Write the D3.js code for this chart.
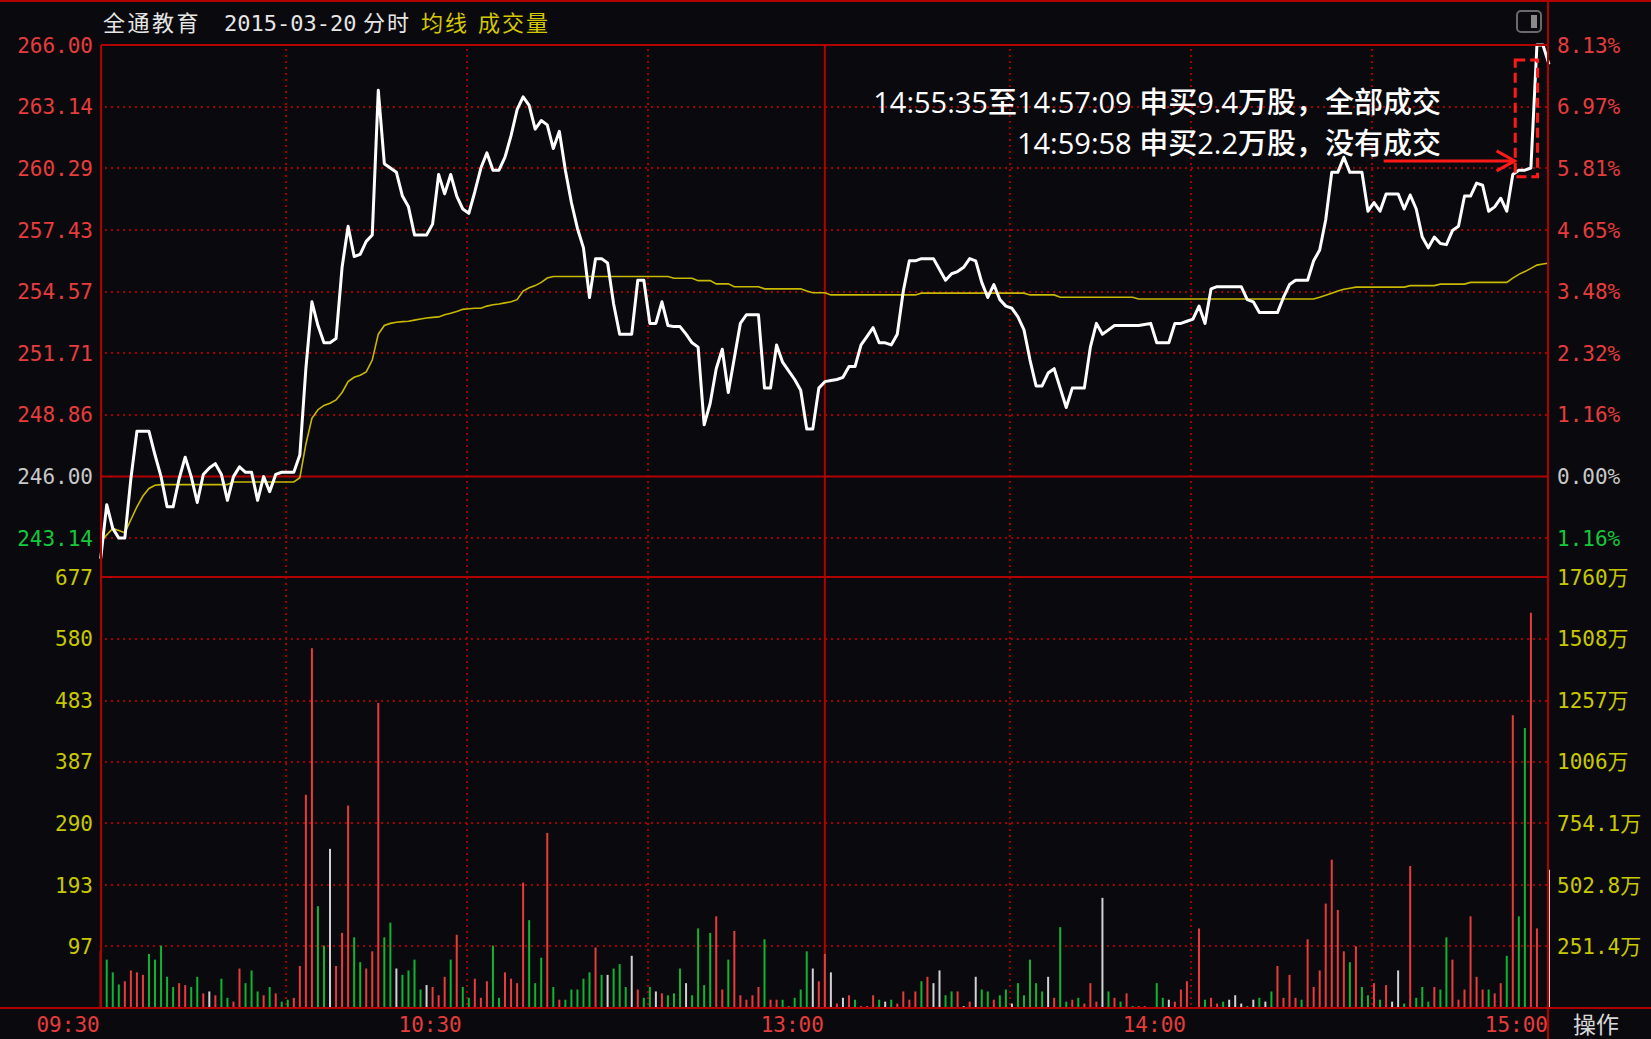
<!DOCTYPE html>
<html>
<head>
<meta charset="utf-8">
<script src="https://cdn.jsdelivr.net/npm/d3@7/dist/d3.min.js"></script>
<style>
  body { margin: 0; background: #0a0a0e; }
  svg { display: block; }
</style>
</head>
<body>
<div id="chart"></div>
<script>
// ---- data ----
var stockName = '全通教育';
var tradeDate = '2015-03-20';
var timeLabels = ['09:30', '10:30', '13:00', '14:00', '15:00'];
var timeLabelIdx = [0, 60, 120, 180, 240];
var gridIdx = [30, 60, 90, 150, 180, 210];
var preClose = 246.00;
var priceTicks = [266.00, 263.14, 260.29, 257.43, 254.57, 251.71, 248.86, 246.00, 243.14];
var pctTicks = ['8.13%', '6.97%', '5.81%', '4.65%', '3.48%', '2.32%', '1.16%', '0.00%', '1.16%'];
var volTicks = [677, 580, 483, 387, 290, 193, 97];
var volMoneyTicks = ['1760万', '1508万', '1257万', '1006万', '754.1万', '502.8万', '251.4万'];

// one value per minute, 09:30 .. 11:30 / 13:01 .. 15:00
var price = [
  242.2, 244.7, 243.6, 243.15, 243.15, 245.9, 248.1, 248.1, 248.1, 247.0,
  246.0, 244.6, 244.6, 245.9, 246.9, 246.0, 244.8, 246.1, 246.4, 246.6,
  246.1, 244.9, 246.0, 246.45, 246.2, 246.2, 244.9, 246.0, 245.3, 246.1,
  246.2, 246.2, 246.2, 247.0, 251.0, 254.1, 253.0, 252.2, 252.2, 252.4,
  255.7, 257.6, 256.2, 256.3, 256.9, 257.2, 263.9, 260.5, 260.3, 260.1,
  259.0, 258.5, 257.2, 257.2, 257.2, 257.7, 260.0, 259.1, 260.0, 259.0,
  258.4, 258.2, 259.2, 260.3, 261.0, 260.2, 260.2, 260.8, 261.8, 263.0,
  263.6, 263.2, 262.1, 262.5, 262.3, 261.2, 262.0, 260.2, 258.7, 257.5,
  256.6, 254.3, 256.1, 256.1, 255.9, 254.0, 252.6, 252.6, 252.6, 255.1,
  255.1, 253.1, 253.1, 254.1, 253.0, 252.95, 252.95, 252.6, 252.2, 252.0,
  248.4, 249.4, 251.0, 251.9, 249.9, 251.5, 253.1, 253.5, 253.5, 253.5,
  250.1, 250.1, 252.1, 251.3, 250.9, 250.5, 250.0, 248.2, 248.2, 250.1,
  250.4, 250.45, 250.5, 250.6, 251.1, 251.1, 252.1, 252.5, 252.9, 252.2,
  252.2, 252.1, 252.6, 254.6, 256.0, 256.0, 256.1, 256.1, 256.1, 255.6,
  255.1, 255.4, 255.5, 255.7, 256.1, 256.0, 255.0, 254.3, 254.9, 254.2,
  253.9, 253.8, 253.4, 252.8, 251.4, 250.2, 250.2, 250.8, 251.0, 250.1,
  249.2, 250.1, 250.1, 250.1, 252.0, 253.1, 252.6, 252.8, 253.0, 253.0,
  253.0, 253.0, 253.0, 253.05, 253.1, 252.2, 252.2, 252.2, 253.1, 253.1,
  253.2, 253.3, 253.9, 253.1, 254.7, 254.8, 254.8, 254.8, 254.8, 254.8,
  254.2, 254.1, 253.6, 253.6, 253.6, 253.6, 254.3, 254.9, 255.1, 255.1,
  255.1, 256.0, 256.5, 257.9, 260.1, 260.1, 260.8, 260.1, 260.1, 260.1,
  258.3, 258.7, 258.3, 259.1, 259.1, 259.1, 258.4, 259.05, 258.4, 257.1,
  256.6, 257.1, 256.8, 256.75, 257.4, 257.6, 259.0, 259.0, 259.6, 259.5,
  258.3, 258.5, 258.9, 258.3, 260.0, 260.2, 260.2, 260.3, 266.0, 266.0,
  265.1
];

var avgPrice = [
  243.0, 243.3, 243.6, 243.5, 243.4, 244.0, 244.6, 245.1, 245.45, 245.6,
  245.63, 245.63, 245.63, 245.63, 245.63, 245.63, 245.63, 245.63, 245.63, 245.63,
  245.63, 245.63, 245.75, 245.75, 245.75, 245.75, 245.75, 245.75, 245.75, 245.75,
  245.75, 245.75, 245.75, 245.95, 247.5, 248.7, 249.1, 249.3, 249.4, 249.55,
  249.9, 250.4, 250.6, 250.7, 250.85, 251.4, 252.6, 253.0, 253.1, 253.15,
  253.18, 253.2, 253.25, 253.3, 253.35, 253.38, 253.4, 253.5, 253.57, 253.65,
  253.75, 253.78, 253.8, 253.8, 253.9, 253.96, 254.0, 254.05, 254.1, 254.2,
  254.6, 254.75, 254.85, 255.0, 255.2, 255.27, 255.27, 255.27, 255.27, 255.27,
  255.27, 255.27, 255.27, 255.27, 255.27, 255.27, 255.27, 255.27, 255.27, 255.27,
  255.27, 255.27, 255.27, 255.27, 255.27, 255.19, 255.19, 255.19, 255.19, 255.08,
  255.08, 255.08, 254.93, 254.93, 254.93, 254.8, 254.8, 254.8, 254.8, 254.8,
  254.7, 254.7, 254.7, 254.7, 254.7, 254.7, 254.7, 254.6, 254.52, 254.52,
  254.52, 254.42, 254.42, 254.42, 254.42, 254.42, 254.42, 254.42, 254.42, 254.42,
  254.42, 254.42, 254.42, 254.42, 254.42, 254.42, 254.5, 254.5, 254.5, 254.5,
  254.5, 254.5, 254.5, 254.5, 254.5, 254.5, 254.5, 254.5, 254.5, 254.5,
  254.5, 254.5, 254.5, 254.5, 254.42, 254.42, 254.42, 254.42, 254.42, 254.31,
  254.31, 254.31, 254.31, 254.31, 254.31, 254.31, 254.31, 254.31, 254.31, 254.31,
  254.31, 254.31, 254.23, 254.23, 254.23, 254.23, 254.23, 254.23, 254.23, 254.23,
  254.23, 254.23, 254.23, 254.23, 254.23, 254.23, 254.23, 254.23, 254.23, 254.23,
  254.23, 254.23, 254.23, 254.23, 254.23, 254.23, 254.23, 254.23, 254.23, 254.23,
  254.23, 254.23, 254.31, 254.4, 254.5, 254.6, 254.68, 254.73, 254.78, 254.78,
  254.78, 254.78, 254.78, 254.78, 254.78, 254.78, 254.78, 254.85, 254.85, 254.85,
  254.85, 254.85, 254.92, 254.92, 254.92, 254.92, 254.92, 255.0, 255.0, 255.0,
  255.0, 255.0, 255.0, 255.0, 255.2, 255.37, 255.5, 255.65, 255.8, 255.85,
  255.9
];

// volume in lots (手)
var volume = [
  90, 76, 56, 37, 42, 59, 56, 52, 85, 76,
  98, 49, 33, 39, 36, 33, 49, 23, 26, 20,
  46, 16, 10, 62, 39, 59, 26, 20, 33, 23,
  10, 13, 16, 66, 335, 565, 160, 98, 250, 66,
  118, 318, 111, 72, 62, 89, 479, 111, 134, 62,
  52, 59, 76, 29, 36, 33, 20, 49, 76, 115,
  33, 16, 46, 16, 42, 98, 16, 56, 46, 39,
  197, 138, 39, 79, 275, 33, 13, 13, 29, 29,
  46, 56, 95, 52, 52, 62, 69, 33, 82, 29,
  16, 33, 26, 23, 20, 23, 62, 39, 20, 125,
  36, 118, 144, 29, 76, 121, 20, 13, 20, 33,
  108, 13, 13, 13, 3, 16, 29, 89, 62, 42,
  85, 56, 7, 16, 20, 13, 3, 3, 20, 13,
  10, 13, 7, 26, 13, 26, 42, 49, 39, 59,
  20, 26, 26, 3, 10, 49, 29, 26, 13, 20,
  29, 7, 39, 20, 76, 39, 26, 49, 16, 127,
  10, 13, 16, 7, 39, 10, 173, 26, 16, 10,
  23, 3, 3, 3, 0, 39, 16, 13, 10, 29,
  42, 0, 125, 13, 16, 7, 10, 13, 20, 7,
  3, 13, 16, 10, 26, 66, 16, 52, 16, 13,
  108, 33, 59, 164, 233, 154, 89, 72, 97, 33,
  20, 39, 13, 36, 10, 59, 7, 223, 16, 33,
  10, 33, 29, 111, 76, 13, 29, 144, 49, 29,
  29, 23, 39, 82, 460, 144, 440, 621, 125, 0,
  217
];

// r = up, g = down, w = flat
var volColor = [
  'r','g','g','g','r','r','r','r','g','g',
  'g','g','g','r','r','g','g','r','w','r',
  'g','g','r','r','g','g','g','r','g','r',
  'g','g','r','r','r','r','g','g','w','r',
  'r','r','g','g','r','r','r','g','g','w',
  'g','g','g','g','w','r','r','r','g','r',
  'g','g','r','r','r','g','g','r','r','r',
  'r','g','g','g','r','g','r','g','g','g',
  'g','g','r','g','w','g','g','g','w','r',
  'g','g','w','r','g','g','g','w','g','g',
  'g','g','r','r','g','r','r','r','r','r',
  'g','r','r','g','g','g','g','g','w','r',
  'r','w','r','w','r','g','r','r','r','g',
  'w','g','r','r','r','r','g','r','w','w',
  'g','g','r','w','r','w','g','g','r','g',
  'g','w','g','g','g','g','g','w','r','g',
  'g','r','g','r','r','r','w','g','r','g',
  'r','g','r','r','w','g','g','w','r','r',
  'r','w','r','g','r','r','g','w','w','w',
  'g','w','g','w','g','r','r','r','r','g',
  'r','r','r','r','r','r','r','g','r','g',
  'g','r','g','r','w','w','g','r','g','g',
  'g','r','g','g','r','r','r','r','r','r',
  'g','r','r','g','r','g','g','r','r','w',
  'w'
];

var notes = ['14:55:35至14:57:09 申买9.4万股，全部成交', '14:59:58 申买2.2万股，没有成交'];
// marked zone: minutes and prices
var noteBox = { i0: 234.4, i1: 238.1, p0: 265.3, p1: 259.9 };
var noteArrow = { i0: 212.6, i1: 234.3, p: 260.63 };

// ---- layout ----
var W = 1651, H = 1039;
var left = 101, right = 1548;
var priceTop = 45, baseY = 476.6, volTop = 577, volBottom = 1008;

var bg = '#0a0a0e';
var axisRed = '#b00000';
var gridRed = '#a00000';
var upRed = '#e63c3c';
var downGreen = '#14c83c';
var flatWhite = '#c8c8c8';
var volYellow = '#c8c800';
var barColor = { r: '#e83c3c', g: '#10b432', w: '#d2d2d2' };

var monoFont = '"DejaVu Sans Mono", "Noto Sans CJK SC", monospace';

var x = d3.scaleLinear().domain([0, 240]).range([100.7, 1549]);
var yP = d3.scaleLinear().domain([preClose, 266]).range([baseY, priceTop]);
var yV = d3.scaleLinear().domain([0, 677]).range([volBottom, volTop]);

var svg = d3.select('#chart').append('svg')
  .attr('width', W)
  .attr('height', H)
  .style('background', bg);

// dotted grid
var grid = svg.append('g').attr('stroke', gridRed).attr('stroke-width', 2).attr('stroke-dasharray', '2 4');

grid.selectAll('line.hp')
  .data(priceTicks.filter(function(d) { return d !== 266 && d !== preClose; }))
  .enter().append('line')
    .attr('x1', left + 4).attr('x2', right)
    .attr('y1', function(d) { return Math.round(yP(d)); })
    .attr('y2', function(d) { return Math.round(yP(d)); });

grid.selectAll('line.hv')
  .data(volTicks.slice(1))
  .enter().append('line')
    .attr('x1', left + 4).attr('x2', right)
    .attr('y1', function(d) { return Math.round(yV(d)); })
    .attr('y2', function(d) { return Math.round(yV(d)); });

grid.selectAll('line.v')
  .data(gridIdx.filter(function(d) { return d !== 120; }))
  .enter().append('line')
    .attr('x1', function(d) { return Math.round(x(d)) + 4; })
    .attr('x2', function(d) { return Math.round(x(d)) + 4; })
    .attr('y1', priceTop + 4).attr('y2', volBottom);

// solid red frame lines
var frame = svg.append('g').attr('stroke', axisRed).attr('stroke-width', 2);
frame.append('line').attr('x1', left).attr('x2', right).attr('y1', baseY).attr('y2', baseY);
frame.append('line').attr('x1', left).attr('x2', right).attr('y1', volTop).attr('y2', volTop);
frame.append('line').attr('x1', x(120)).attr('x2', x(120)).attr('y1', priceTop).attr('y2', volBottom);

// volume bars
svg.append('g').selectAll('line')
  .data(volume)
  .enter().append('line')
    .attr('x1', function(d, i) { return x(i); })
    .attr('x2', function(d, i) { return x(i); })
    .attr('y1', yV(0))
    .attr('y2', function(d) { return yV(d); })
    .attr('stroke', function(d, i) { return barColor[volColor[i]]; })
    .attr('stroke-width', 2);

// average price line
var line = d3.line()
  .x(function(d, i) { return x(i); })
  .y(function(d) { return yP(d); });

svg.append('path')
  .datum(avgPrice)
  .attr('d', line)
  .attr('fill', 'none')
  .attr('stroke', '#c8b800')
  .attr('stroke-width', 1.6);

// price line
svg.append('path')
  .datum(price)
  .attr('d', line)
  .attr('fill', 'none')
  .attr('stroke', '#ffffff')
  .attr('stroke-width', 3)
  .attr('stroke-linejoin', 'round');

// outer frame
frame = svg.append('g').attr('stroke', axisRed).attr('stroke-width', 2);
frame.append('line').attr('x1', 0).attr('x2', W).attr('y1', 1).attr('y2', 1);
frame.append('line').attr('x1', left).attr('x2', right).attr('y1', priceTop).attr('y2', priceTop);
frame.append('line').attr('x1', 0).attr('x2', W).attr('y1', volBottom).attr('y2', volBottom);
frame.append('line').attr('x1', left).attr('x2', left).attr('y1', priceTop).attr('y2', volBottom);
frame.append('line').attr('x1', right).attr('x2', right).attr('y1', 0).attr('y2', H);

// left price labels
function tickColor(d) {
  if (d > preClose) return upRed;
  if (d < preClose) return downGreen;
  return flatWhite;
}

svg.append('g').selectAll('text')
  .data(priceTicks)
  .enter().append('text')
    .attr('x', 93)
    .attr('y', function(d) { return yP(d); })
    .attr('dy', '0.36em')
    .attr('text-anchor', 'end')
    .attr('font-family', monoFont)
    .attr('font-size', 21)
    .attr('fill', tickColor)
    .text(function(d) { return d.toFixed(2); });

svg.append('g').selectAll('text')
  .data(pctTicks)
  .enter().append('text')
    .attr('x', 1557)
    .attr('y', function(d, i) { return yP(priceTicks[i]); })
    .attr('dy', '0.36em')
    .attr('font-family', monoFont)
    .attr('font-size', 21)
    .attr('fill', function(d, i) { return tickColor(priceTicks[i]); })
    .text(function(d) { return d; });

// volume labels
svg.append('g').selectAll('text')
  .data(volTicks)
  .enter().append('text')
    .attr('x', 93)
    .attr('y', function(d) { return yV(d); })
    .attr('dy', '0.36em')
    .attr('text-anchor', 'end')
    .attr('font-family', monoFont)
    .attr('font-size', 21)
    .attr('fill', volYellow)
    .text(function(d) { return d; });

svg.append('g').selectAll('text')
  .data(volMoneyTicks)
  .enter().append('text')
    .attr('x', 1557)
    .attr('y', function(d, i) { return yV(volTicks[i]); })
    .attr('dy', '0.36em')
    .attr('font-family', monoFont)
    .attr('font-size', 21)
    .attr('fill', volYellow)
    .text(function(d) { return d; });

// time labels
svg.append('g').selectAll('text')
  .data(timeLabels)
  .enter().append('text')
    .attr('x', function(d, i) { return x(timeLabelIdx[i]) - 1; })
    .attr('y', 1032)
    .attr('text-anchor', 'end')
    .attr('font-family', monoFont)
    .attr('font-size', 21)
    .attr('fill', upRed)
    .text(function(d) { return d; });

svg.append('text')
  .attr('x', 1596).attr('y', 1033)
  .attr('text-anchor', 'middle')
  .attr('font-family', '"Noto Sans CJK SC", sans-serif')
  .attr('font-size', 23)
  .attr('fill', '#d8d8d8')
  .text('操作');

// header
var head = svg.append('g')
  .attr('font-family', monoFont)
  .attr('font-size', 22);
head.append('text').attr('x', 103).attr('y', 31).attr('fill', '#e6e6e6')
  .attr('letter-spacing', 2.5).text(stockName);
head.append('text').attr('x', 224).attr('y', 31).attr('fill', '#e6e6e6').text(tradeDate);
head.append('text').attr('x', 363).attr('y', 31).attr('fill', '#e6e6e6')
  .attr('letter-spacing', 2).text('分时');
head.append('text').attr('x', 421).attr('y', 31).attr('fill', '#d4c800')
  .attr('letter-spacing', 2).text('均线');
head.append('text').attr('x', 478).attr('y', 31).attr('fill', '#d4c800')
  .attr('letter-spacing', 2).text('成交量');

// small window icon
svg.append('rect')
  .attr('x', 1517).attr('y', 11).attr('width', 24).attr('height', 21).attr('rx', 4)
  .attr('fill', 'none').attr('stroke', '#6a6a6a').attr('stroke-width', 2);
svg.append('rect')
  .attr('x', 1531).attr('y', 15).attr('width', 6).attr('height', 13)
  .attr('fill', '#8a8a8a');

// annotation
svg.append('g').selectAll('text')
  .data(notes)
  .enter().append('text')
    .attr('x', 1441)
    .attr('y', function(d, i) { return 113 + i * 41; })
    .attr('text-anchor', 'end')
    .attr('font-family', '"Open Sans", "Noto Sans CJK SC", sans-serif')
    .attr('font-size', 29)
    .attr('font-weight', 500)
    .attr('fill', '#ffffff')
    .text(function(d) { return d; });

svg.append('rect')
  .attr('x', x(noteBox.i0))
  .attr('y', yP(noteBox.p0))
  .attr('width', x(noteBox.i1) - x(noteBox.i0))
  .attr('height', yP(noteBox.p1) - yP(noteBox.p0))
  .attr('fill', 'none')
  .attr('stroke', '#ff1a1a')
  .attr('stroke-width', 3)
  .attr('stroke-dasharray', '10 5');

var ay = yP(noteArrow.p), ax = x(noteArrow.i1);
svg.append('line')
  .attr('x1', x(noteArrow.i0)).attr('x2', ax)
  .attr('y1', ay).attr('y2', ay)
  .attr('stroke', '#ff1a1a').attr('stroke-width', 3);
svg.append('path')
  .attr('d', 'M' + (ax - 18) + ',' + (ay - 10) + 'L' + ax + ',' + ay + 'L' + (ax - 18) + ',' + (ay + 10))
  .attr('fill', 'none')
  .attr('stroke', '#ff1a1a').attr('stroke-width', 3);
</script>
</body>
</html>
